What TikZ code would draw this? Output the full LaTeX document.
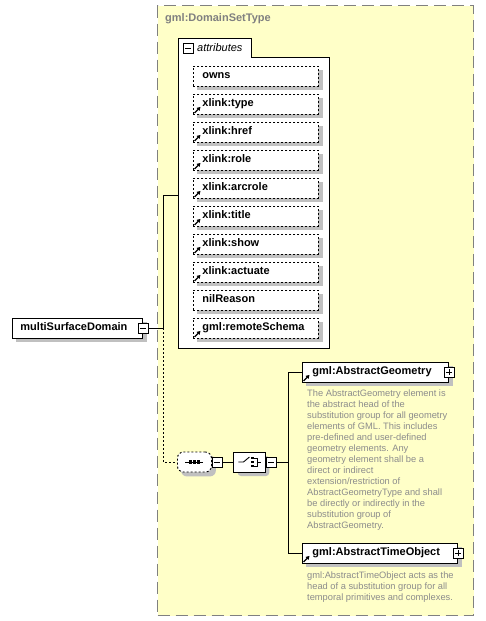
\documentclass[tikz,border=0pt]{standalone}
\usepackage{fontspec}
\setmainfont{Liberation Sans}
\usetikzlibrary{arrows.meta,shapes.misc}
\definecolor{bgyellow}{RGB}{255,255,200}
\definecolor{bordergray}{RGB}{128,128,128}
\definecolor{shgray}{RGB}{192,192,192}
\definecolor{descgray}{RGB}{140,140,140}
\newcommand{\boxtxt}[3]{\makebox[#1][l]{\hspace*{#2}#3}}
\pgfdeclarelayer{bglayer}
\pgfdeclarelayer{shlayer}
\pgfsetlayers{bglayer,shlayer,main}
\newcommand{\shadowof}[2][0pt]{\begin{pgfonlayer}{shlayer}\fill[shgray, rounded corners=#1] ([shift={(4,4)}]#2.north west) rectangle ([shift={(4,4)}]#2.south east);\end{pgfonlayer}}
\begin{document}
\begin{tikzpicture}[x=1pt,y=-1pt,
 every node/.style={inner sep=0pt},
 elem/.style={draw, line width=0.9pt, fill=white, minimum height=20, anchor=west,
   text height=8pt, text depth=2.5pt, font=\bfseries\fontsize{11}{13}\selectfont},
 attr/.style={elem, dash pattern=on 2pt off 2pt},
 minus/.style={draw, fill=white, line width=0.8pt, minimum size=10,
   path picture={\draw[line width=0.8pt] ([xshift=2pt]path picture bounding box.west) -- ([xshift=-2pt]path picture bounding box.east);}},
 plus/.style={draw, fill=white, line width=0.8pt, minimum size=10,
   path picture={\draw[line width=0.8pt] ([xshift=2pt]path picture bounding box.west) -- ([xshift=-2pt]path picture bounding box.east) ([yshift=-2pt]path picture bounding box.north) -- ([yshift=2pt]path picture bounding box.south);}},
 conn/.style={line width=0.9pt},
 desc/.style={anchor=north west, align=left, text=descgray, font=\fontsize{9.3}{11}\selectfont},
 lnk/.pic={\draw[line width=1.2pt,-{Triangle[length=3.5pt,width=4pt]}] (0,0) -- (6,-6);}
]
\useasboundingbox (0,0) rectangle (485,621);
% container and attributes group (background)
\begin{pgfonlayer}{bglayer}
\node[draw=bordergray, line width=1.2pt, dash pattern=on 12pt off 6pt, fill=bgyellow,
  minimum width=316, minimum height=610, anchor=north west] (dst) at (157,5) {};
\path[draw, fill=white, line width=0.9pt] (178,348) -- (178,38) -- (251,38) -- (251,57) -- (329,57) -- (329,348) -- cycle;
\end{pgfonlayer}
\node[anchor=west, text=bordergray, font=\bfseries\fontsize{11}{13}\selectfont] (dsttitle) at (165,19) {gml:DomainSetType};
\coordinate (attrs) at (178,195);
\node[minus] (attrminus) at (188,48) {};
\node[anchor=west, font=\itshape\fontsize{11}{13}\selectfont] (attrlbl) at (197,48) {attributes};
\foreach [count=\i from 0] \t/\l in {owns/0,xlink:type/1,xlink:href/1,xlink:role/1,xlink:arcrole/1,xlink:title/1,xlink:show/1,xlink:actuate/1,nilReason/0,gml:remoteSchema/1} {
  \node[attr] (a\i) at (193,{76+28*\i}) {\boxtxt{125pt}{9pt}{\t}};
  \shadowof{a\i}
  \ifnum\l=1 \pic at ([shift={(1.5,-1.5)}]a\i.south west) {lnk}; \fi
}
% root element
\node[elem, minimum width=130] (msd) at (12,328) {\boxtxt{130pt}{8pt}{multiSurfaceDomain}};
\shadowof{msd}
\node[minus] (msdm) at (msd.east) {};
\coordinate (j1) at (163,328);
\draw[conn] (msdm.east) -- (j1);
\draw[conn] (j1) |- (attrs);
% sequence
\node[draw, dash pattern=on 2pt off 2pt, rounded corners=6pt, fill=white, line width=0.9pt,
  minimum width=34, minimum height=20, anchor=west] (seq) at (177,462) {};
\shadowof[6pt]{seq}
\draw[conn, dash pattern=on 2pt off 2pt] (j1) |- (seq.west);
\draw[line width=0.9pt] ([xshift=-9pt]seq.center) -- ([xshift=9pt]seq.center);
\foreach \dx in {-4,0,4} \fill ([xshift=\dx pt]seq.center) ++(-1.6,-1.6) rectangle ++(3.2,3.2);
\node[minus, anchor=west] (seqm) at (seq.east) {};
% choice
\node[draw, chamfered rectangle, chamfered rectangle xsep=4pt, chamfered rectangle ysep=4pt,
  fill=white, line width=0.9pt, minimum width=32, minimum height=20, anchor=west] (cho) at (233,462) {};
\shadowof[4pt]{cho}
\draw[conn] (seqm.east) -- (cho.west);
\draw[line width=0.9pt] ([xshift=-11pt]cho.center) -- ([xshift=-6pt]cho.center) -- ([shift={(0,-5)}]cho.center);
\foreach \dy in {-4,0,4} \fill ([shift={(3,\dy)}]cho.center) ++(-1.4,-1.4) rectangle ++(2.8,2.8);
\draw[line width=0.9pt] ([shift={(5,-4)}]cho.center) -- ([shift={(8,-4)}]cho.center) -- ([shift={(8,4)}]cho.center) -- ([shift={(5,4)}]cho.center)
  ([shift={(8,0)}]cho.center) -- ([shift={(12,0)}]cho.center);
\node[minus, anchor=west] (chom) at (cho.east) {};
\coordinate (j2) at (288,462);
\draw[conn] (chom.east) -- (j2);
% children
\node[elem, minimum width=146] (ag) at (302,372) {\boxtxt{146pt}{10pt}{gml:AbstractGeometry}};
\shadowof{ag}
\pic at ([shift={(1.5,-1.5)}]ag.south west) {lnk};
\node[plus] (agp) at (ag.east) {};
\node[elem, minimum width=155] (ato) at (302,553) {\boxtxt{155pt}{10pt}{gml:AbstractTimeObject}};
\shadowof{ato}
\pic at ([shift={(1.5,-1.5)}]ato.south west) {lnk};
\node[plus] (atop) at (ato.east) {};
\draw[conn] (j2) |- (ag.west);
\draw[conn] (j2) |- (ato.west);
% descriptions
\node[desc] (agdesc) at (307,390) {The AbstractGeometry element is\\the abstract head of the\\substitution group for all geometry\\elements of GML. This includes\\pre-defined and user-defined\\geometry elements. Any\\geometry element shall be a\\direct or indirect\\extension/restriction of\\AbstractGeometryType and shall\\be directly or indirectly in the\\substitution group of\\AbstractGeometry.};
\node[desc] (atodesc) at (307,572) {gml:AbstractTimeObject acts as the\\head of a substitution group for all\\temporal primitives and complexes.};
\end{tikzpicture}
\end{document}
